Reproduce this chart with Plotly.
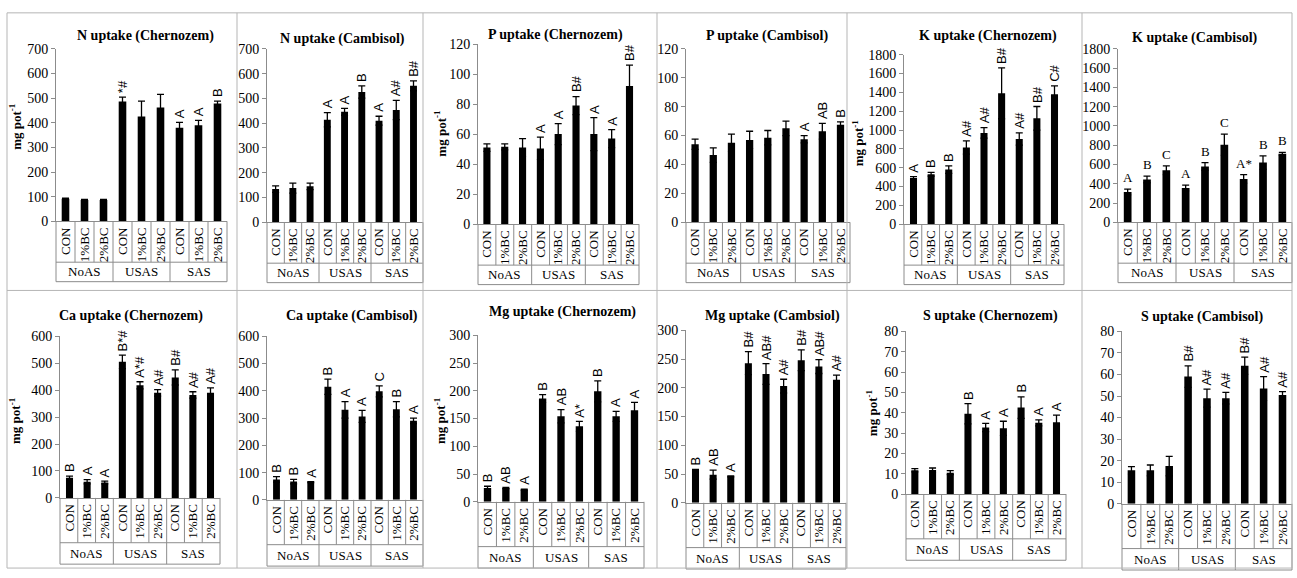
import plotly.graph_objects as go

W, H = 1297, 578

groups = ["NoAS"] * 3 + ["USAS"] * 3 + ["SAS"] * 3
treatments = ["CON", "1%BC", "2%BC"] * 3
group_names = ["NoAS", "USAS", "SAS"]
x_keys = [f"{g} {t}" for g, t in zip(groups, treatments)]

# ---- data (mg pot-1) ----
n_chern = [92, 86, 86, 486, 425, 462, 380, 390, 478]
n_chern_err = [2, 3, 3, 18, 63, 53, 22, 20, 10]
n_chern_lbl = ["", "", "", "*#", "", "", "A", "A", "B"]

n_camb = [134, 138, 145, 414, 446, 526, 410, 453, 551]
n_camb_err = [13, 20, 13, 29, 14, 25, 18, 39, 20]
n_camb_lbl = ["", "", "", "A", "A", "B", "A", "A#", "B#"]

p_chern = [51, 51.5, 51, 50.5, 60, 79, 60, 57, 92]
p_chern_err = [2.5, 2, 6, 7.5, 7, 6, 11, 6, 14]
p_chern_lbl = ["", "", "", "A", "A", "B#", "A", "A", "B#"]

p_camb = [54, 46.5, 55, 57, 58.5, 65, 57.5, 63, 67.5]
p_camb_err = [3.5, 5, 6, 6, 5, 5, 2.5, 5.5, 2]
p_camb_lbl = ["", "", "", "", "", "", "A", "AB", "B"]

k_chern = [490, 530, 580, 815, 970, 1390, 905, 1125, 1380]
k_chern_err = [15, 20, 40, 70, 55, 270, 65, 125, 90]
k_chern_lbl = ["A", "B", "B", "A#", "A#", "B#", "A#", "B#", "C#"]

k_camb = [315, 445, 540, 355, 580, 805, 450, 620, 710]
k_camb_err = [30, 35, 45, 30, 40, 110, 45, 70, 15]
k_camb_lbl = ["A", "B", "C", "A", "B", "C", "A*", "B", "B"]

ca_chern = [75, 60, 57, 505, 418, 390, 447, 382, 390]
ca_chern_err = [6, 8, 5, 25, 13, 12, 28, 12, 18]
ca_chern_lbl = ["B", "A", "A", "B*#", "A*#", "A#", "B#", "A#", "A#"]

ca_camb = [75, 67, 65, 415, 330, 306, 398, 332, 290]
ca_camb_err = [10, 8, 2, 28, 30, 22, 20, 28, 10]
ca_camb_lbl = ["B", "B", "A", "B", "A", "A", "C", "B", "A"]

mg_chern = [25, 25, 22, 186, 154, 136, 199, 154, 165]
mg_chern_err = [3, 1, 1, 7, 12, 9, 19, 9, 14]
mg_chern_lbl = ["B", "AB", "A", "B", "AB", "A*", "B", "A", "A"]

mg_camb = [57, 49, 46, 243, 224, 203, 248, 237, 214]
mg_camb_err = [1, 8, 1, 20, 18, 12, 18, 12, 8]
mg_camb_lbl = ["B", "AB", "A", "B#", "AB#", "A#", "B#", "AB#", "A#"]

s_chern = [11.7, 11.8, 10.5, 39.5, 32.7, 32.3, 42.5, 35, 35.3]
s_chern_err = [0.8, 1, 1, 5, 2, 3.5, 5.3, 1.5, 3.5]
s_chern_lbl = ["", "", "", "B", "A", "A", "B", "A", "A"]

s_camb = [15.5, 15.5, 17.5, 59, 49, 49, 64, 53.5, 50.5]
s_camb_err = [1.7, 2.5, 4.5, 5, 4.2, 2.7, 4, 5.5, 1.5]
s_camb_lbl = ["", "", "", "B#", "A#", "A#", "B#", "A#", "A#"]

titles = ["N uptake (Chernozem)", "N uptake (Cambisol)", "P uptake (Chernozem)",
          "P uptake (Cambisol)", "K uptake (Chernozem)", "K uptake (Cambisol)",
          "Ca uptake (Chernozem)", "Ca uptake (Cambisol)", "Mg uptake (Chernozem)",
          "Mg uptake (Cambsiol)", "S uptake (Chernozem)", "S uptake (Cambisol)"]

series = [(n_chern, n_chern_err, n_chern_lbl), (n_camb, n_camb_err, n_camb_lbl),
          (p_chern, p_chern_err, p_chern_lbl), (p_camb, p_camb_err, p_camb_lbl),
          (k_chern, k_chern_err, k_chern_lbl), (k_camb, k_camb_err, k_camb_lbl),
          (ca_chern, ca_chern_err, ca_chern_lbl), (ca_camb, ca_camb_err, ca_camb_lbl),
          (mg_chern, mg_chern_err, mg_chern_lbl), (mg_camb, mg_camb_err, mg_camb_lbl),
          (s_chern, s_chern_err, s_chern_lbl), (s_camb, s_camb_err, s_camb_lbl)]

y_max = [700, 700, 120, 120, 1800, 1800, 600, 600, 300, 300, 80, 80]
y_dtick = [100, 100, 20, 20, 200, 200, 100, 100, 50, 50, 10, 10]

# ---- layout geometry (pixels) ----
# (x_left, x_right, y_top, y_bottom)
boxes = [(56, 227, 43, 220), (267, 423, 43, 221), (478, 639, 38, 223),
         (686, 850, 43, 221), (904, 1064, 49, 223), (1118, 1292, 43, 221),
         (60, 220, 338, 504), (267, 423, 338, 506), (478, 644, 337, 508),
         (686, 846, 332, 509), (906, 1066, 333, 500), (1122, 1292, 333, 510)]
title_pos = [(145, 30), (343, 33), (555, 29), (767, 30), (988, 30), (1195, 32),
             (131, 317), (352, 317), (562, 313), (772, 317), (990, 317), (1202, 318)]
ytitle_pos = {0: (15, 123), 2: (440, 130), 4: (858, 140), 6: (15, 425),
              8: (440, 425), 10: (872, 417)}
rot_labels = [True] * 12
rot_labels[5] = False
# table cell heights below the axis: (inner level, outer level)
cells = [(42, 20)] * 6 + [(46, 22)] * 6

SERIF = "Liberation Serif, Times New Roman, serif"
SANS = "Liberation Sans, Arial, sans-serif"
GRAY = "#8c8c8c"

fig = go.Figure()
layout = dict(width=W, height=H, margin=dict(l=0, r=0, t=0, b=0),
              paper_bgcolor="white", plot_bgcolor="white", showlegend=False,
              bargap=0.6)
annotations = []
shapes = []

for i, (vals, errs, lbls) in enumerate(series):
    n = i + 1
    xa = "x" if n == 1 else f"x{n}"
    ya = "y" if n == 1 else f"y{n}"
    x0, x1, yt, yb = boxes[i]
    ph = yb - yt
    inner, outer = cells[i]
    fig.add_trace(go.Bar(
        x=x_keys, y=vals, marker=dict(color="black", line=dict(width=0)),
        error_y=dict(type="data", array=errs, color="black", thickness=1.3, width=3.5),
        xaxis=xa, yaxis=ya, showlegend=False))
    layout[f"xaxis{n}"] = dict(
        domain=[x0 / W, x1 / W], anchor=ya, type="category",
        tickmode="array", tickvals=x_keys, ticktext=treatments,
        showline=True, linecolor=GRAY, linewidth=1, ticks="",
        tickangle=-90, tickfont=dict(family=SERIF, size=13, color="black"),
        showgrid=False, zeroline=False, fixedrange=True)
    layout[f"yaxis{n}"] = dict(
        domain=[1 - yb / H, 1 - yt / H], anchor=xa, range=[0, y_max[i]],
        dtick=y_dtick[i], showline=True, linecolor=GRAY, linewidth=1,
        ticks="outside", ticklen=4, tickcolor=GRAY,
        tickfont=dict(family=SERIF, size=14, color="black"),
        showgrid=False, zeroline=False)
    # category table lines
    for j in range(10):
        depth = inner + outer if j % 3 == 0 else inner
        shapes.append(dict(type="line", xref=f"{xa} domain", yref=f"{ya} domain",
                           x0=j / 9, x1=j / 9, y0=0, y1=-depth / ph,
                           line=dict(color=GRAY, width=1)))
    for d in (inner, inner + outer):
        shapes.append(dict(type="line", xref=f"{xa} domain", yref=f"{ya} domain",
                           x0=0, x1=1, y0=-d / ph, y1=-d / ph,
                           line=dict(color=GRAY, width=1)))
    for k, g in enumerate(group_names):
        annotations.append(dict(x=(3 * k + 1.5) / 9, y=-(inner + outer / 2) / ph,
                                xref=f"{xa} domain", yref=f"{ya} domain", text=g,
                                showarrow=False, xanchor="center", yanchor="middle",
                                font=dict(family=SERIF, size=13, color="black")))
    # letters
    for j, (v, e, l) in enumerate(zip(vals, errs, lbls)):
        if not l:
            continue
        annotations.append(dict(
            x=x_keys[j], y=v + e, xref=xa, yref=ya, text=l, showarrow=False,
            textangle=-90 if rot_labels[i] else 0, xanchor="center", yanchor="bottom",
            yshift=2,
            font=dict(family=SANS if rot_labels[i] else SERIF, size=13, color="black")))
    tx, ty = title_pos[i]
    annotations.append(dict(x=tx / W, y=1 - ty / H, xref="paper", yref="paper",
                            text=f"<b>{titles[i]}</b>", showarrow=False,
                            xanchor="center", yanchor="middle",
                            font=dict(family=SERIF, size=14, color="black")))
    if i in ytitle_pos:
        px, py = ytitle_pos[i]
        annotations.append(dict(x=px / W, y=1 - py / H, xref="paper", yref="paper",
                                text="<b>mg pot<sup>-1</sup></b>", showarrow=False,
                                textangle=-90, xanchor="center", yanchor="middle",
                                font=dict(family=SERIF, size=13, color="black")))

# panel borders
for xv in [7, 237, 423, 657, 847, 1082, 1292]:
    shapes.append(dict(type="line", xref="paper", yref="paper", x0=xv / W, x1=xv / W,
                       y0=1 - 6 / H, y1=1 - 576 / H, line=dict(color="#b5b5b5", width=1)))
for yv in [6, 291, 576]:
    shapes.append(dict(type="line", xref="paper", yref="paper", x0=7 / W, x1=1292 / W,
                       y0=1 - yv / H, y1=1 - yv / H, line=dict(color="#b5b5b5", width=1)))

layout["annotations"] = annotations
layout["shapes"] = shapes
fig.update_layout(**layout)
fig.write_html("out.html", config={"displayModeBar": False},
               post_script="document.body.style.margin='0';document.body.style.overflow='hidden';")
